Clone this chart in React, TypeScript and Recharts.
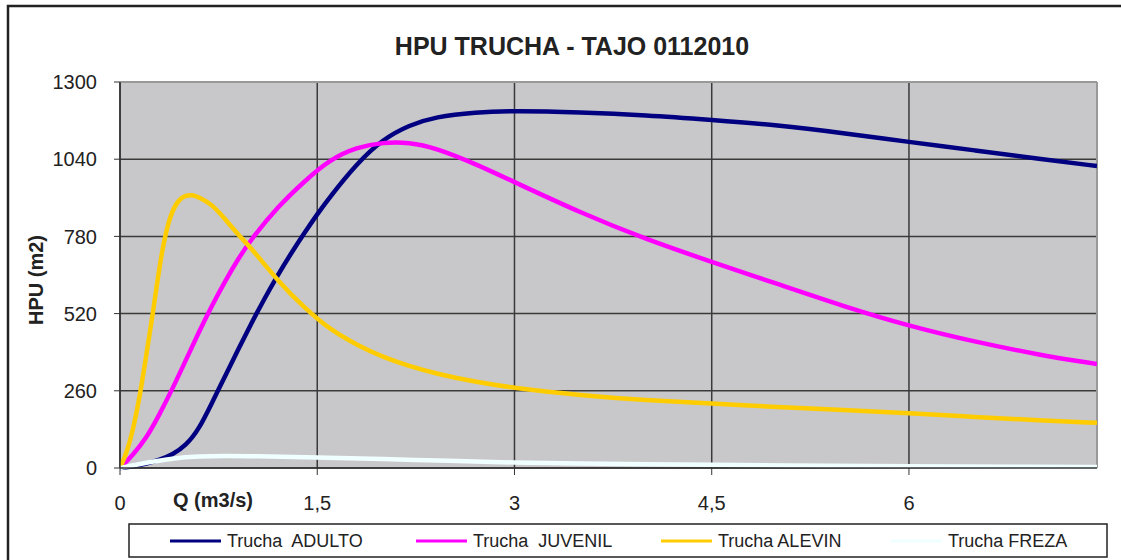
import { LineChart, Line, XAxis, YAxis, CartesianGrid, ReferenceLine } from "recharts";

// caudal (m3/s) y HPU (m2) por estadio
const qAdulto = [0, 0.1, 0.2, 0.3, 0.4, 0.5, 0.6, 0.7, 0.8, 0.9, 1.0, 1.1, 1.2, 1.3, 1.4, 1.5, 1.6, 1.8, 2.0, 2.2, 2.4, 2.7, 3.0, 3.5, 4.0, 4.5, 5.0, 5.5, 6.0, 6.5, 7.0, 7.43];
const adulto = [0, 5, 14, 27, 45, 75, 130, 220, 310, 400, 488, 572, 650, 722, 790, 855, 915, 1025, 1108, 1155, 1183, 1198, 1203, 1198, 1188, 1172, 1155, 1128, 1098, 1070, 1040, 1017];

const qJuvenil = [0, 0.1, 0.2, 0.3, 0.4, 0.5, 0.6, 0.7, 0.8, 0.9, 1.0, 1.2, 1.4, 1.6, 1.8, 2.0, 2.2, 2.4, 2.7, 3.0, 3.5, 4.0, 4.5, 5.0, 5.5, 6.0, 6.5, 7.0, 7.43];
const juvenil = [0, 45, 100, 180, 268, 362, 458, 548, 630, 705, 772, 880, 965, 1040, 1080, 1097, 1097, 1078, 1025, 963, 860, 770, 694, 620, 545, 478, 425, 380, 350];

const qAlevin = [0, 0.05, 0.1, 0.15, 0.2, 0.25, 0.3, 0.35, 0.4, 0.45, 0.5, 0.55, 0.6, 0.7, 0.8, 0.9, 1.0, 1.2, 1.4, 1.6, 1.8, 2.0, 2.2, 2.4, 2.7, 3.0, 3.5, 4.0, 4.5, 5.0, 5.5, 6.0, 6.5, 7.0, 7.43];
const alevin = [0, 50, 130, 240, 380, 520, 680, 800, 870, 905, 918, 920, 912, 888, 838, 785, 740, 630, 540, 465, 415, 373, 343, 318, 290, 269, 245, 228, 217, 205, 195, 185, 172, 160, 152];

const qFreza = [0, 0.2, 0.4, 0.6, 0.8, 1.0, 1.5, 2.0, 2.5, 3.0, 3.5, 4.0, 4.5, 5.0, 6.0, 7.0, 7.43];
const freza = [0, 18, 33, 39, 41, 40, 36, 30, 24, 18, 15, 13, 11, 9, 6, 4, 3];

const xTicks = [0, 1.5, 3, 4.5, 6];
const yTicks = [0, 260, 520, 780, 1040, 1300];

const series = [
  { key: "adulto", name: "Trucha  ADULTO", color: "#000080", q: qAdulto, v: adulto, legendX: 170 },
  { key: "juvenil", name: "Trucha  JUVENIL", color: "#FF00FF", q: qJuvenil, v: juvenil, legendX: 416 },
  { key: "alevin", name: "Trucha ALEVIN", color: "#FFCC00", q: qAlevin, v: alevin, legendX: 661 },
  { key: "freza", name: "Trucha FREZA", color: "#F0FFFF", q: qFreza, v: freza, legendX: 891 },
];

const FONT = "'Liberation Sans', Arial, sans-serif";

export default function App() {
  return (
    <div style={{ position: "absolute", left: 0, top: 0, width: 1121, height: 560, background: "#fff", fontFamily: FONT }}>
      <LineChart width={1121} height={560} margin={{ top: 82, right: 24, bottom: 52, left: 60 }}>
        <CartesianGrid fill="#C8C8CA" stroke="#3a3a3a" strokeWidth={1.5} horizontalValues={yTicks} verticalValues={xTicks} />
        <XAxis
          dataKey="q"
          type="number"
          domain={[0, 7.43]}
          allowDataOverflow
          ticks={xTicks}
          interval={0}
          height={40}
          tickSize={7}
          tickMargin={21}
          tickFormatter={(v: number) => String(v).replace(".", ",")}
          tick={{ fill: "#222", fontSize: 20, fontFamily: FONT }}
          axisLine={{ stroke: "#333", strokeWidth: 1.5 }}
          tickLine={{ stroke: "#333" }}
        />
        <YAxis
          type="number"
          domain={[0, 1300]}
          ticks={yTicks}
          interval={0}
          width={60}
          tickSize={6}
          tickMargin={17}
          tick={{ fill: "#222", fontSize: 20, fontFamily: FONT }}
          axisLine={{ stroke: "#333", strokeWidth: 1.5 }}
          tickLine={{ stroke: "#333" }}
        />
        <ReferenceLine y={1300} stroke="#999" strokeWidth={2} ifOverflow="visible" />
        <ReferenceLine x={7.43} stroke="#999" strokeWidth={2} ifOverflow="visible" />
        {series.map((s) => (
          <Line
            key={s.key}
            data={s.q.map((q, i) => ({ q, [s.key]: s.v[i] }))}
            dataKey={s.key}
            name={s.name}
            type="basis"
            stroke={s.color}
            strokeWidth={4.5}
            dot={false}
            activeDot={false}
            isAnimationActive={false}
          />
        ))}
      </LineChart>
      <svg width={1121} height={560} style={{ position: "absolute", left: 0, top: 0, pointerEvents: "none" }}>
        <path d="M8,560 L8,6 L1121,6" fill="none" stroke="#222" strokeWidth={2.5} />
        <text x={572} y={55} textAnchor="middle" fontSize={25} fontWeight="bold" fill="#222" fontFamily={FONT}>
          HPU TRUCHA - TAJO 0112010
        </text>
        <text x={43} y={280} textAnchor="middle" fontSize={20} fontWeight="bold" fill="#222" fontFamily={FONT} transform="rotate(-90 43 280)">
          HPU (m2)
        </text>
        <text x={173} y={507} fontSize={20} fontWeight="bold" fill="#222" fontFamily={FONT}>
          Q (m3/s)
        </text>
        <rect x={129} y={524} width={978} height={33} fill="#fff" stroke="#222" strokeWidth={1.5} />
        {series.map((s) => (
          <g key={s.key}>
            <line x1={s.legendX} x2={s.legendX + 51} y1={541} y2={541} stroke={s.color} strokeWidth={3} />
            <text x={s.legendX + 57} y={547} fontSize={18} fill="#222" fontFamily={FONT} xmlSpace="preserve">
              {s.name}
            </text>
          </g>
        ))}
      </svg>
    </div>
  );
}
